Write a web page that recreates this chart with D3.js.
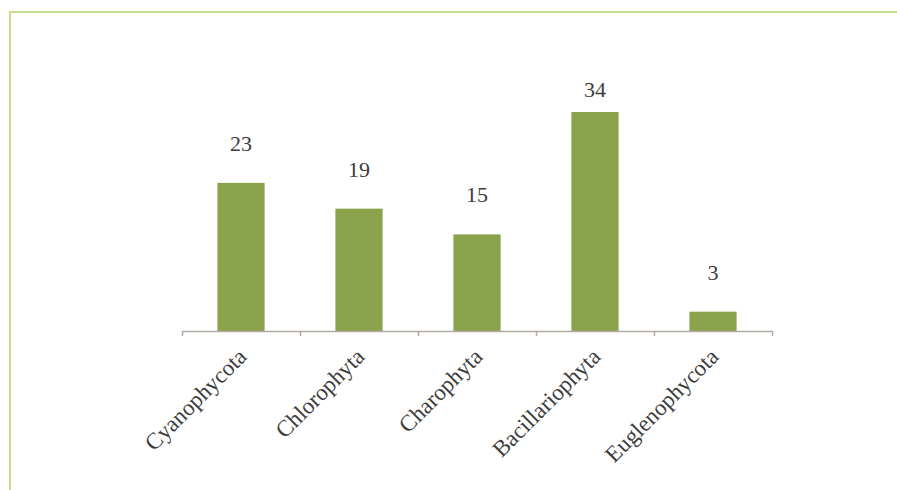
<!DOCTYPE html>
<html>
<head>
<meta charset="utf-8">
<script src="https://cdn.jsdelivr.net/npm/d3@7"></script>
<style>
  html, body { margin: 0; padding: 0; background: #ffffff; }
  svg { display: block; }
</style>
</head>
<body>
<script>
const categories = ["Cyanophycota", "Chlorophyta", "Charophyta", "Bacillariophyta", "Euglenophycota"];
const values = [23, 19, 15, 34, 3];

const W = 897, H = 490;
const svg = d3.select("body").append("svg").attr("width", W).attr("height", H);

// frame
svg.append("path")
  .attr("d", `M10,${H} L10,12 L${W},12`)
  .attr("fill", "none").attr("stroke", "#c9dd8e").attr("stroke-width", 2);

const left = 182, right = 772, base = 331;
const x = d3.scaleBand().domain(categories).range([left, right]).paddingInner(0.6).paddingOuter(0.3);
const y = d3.scaleLinear().domain([0, 40]).range([base, base - 40 * 6.44]);
const xEdge = d3.scaleLinear().domain([0, categories.length]).range([left, right]);

const font = "'Liberation Serif', 'Times New Roman', serif";

// bars
svg.selectAll("rect.bar").data(values).enter().append("rect")
  .attr("class", "bar")
  .attr("x", (d, i) => x(categories[i]))
  .attr("width", x.bandwidth())
  .attr("y", d => y(d))
  .attr("height", d => base - y(d))
  .attr("fill", "#8aa24a");

// axis
const axis = svg.append("g").attr("transform", `translate(0,${base})`)
  .call(d3.axisBottom(xEdge).tickValues(d3.range(categories.length + 1)).tickSize(5).tickSizeOuter(0).tickFormat(""));
axis.select(".domain").attr("stroke", "#b3aaa2").attr("stroke-width", 1.5);
axis.selectAll(".tick line").attr("stroke", "#b3aaa2").attr("stroke-width", 1.5);

// value labels
const labelTop = 97;
svg.selectAll("text.val").data(values).enter().append("text")
  .attr("class", "val")
  .attr("x", (d, i) => x(categories[i]) + x.bandwidth() / 2)
  .attr("y", d => Math.max(y(d) - 32, labelTop))
  .attr("text-anchor", "middle")
  .attr("font-family", font).attr("font-size", 22)
  .attr("fill", "#3d3d3d")
  .text(d => d);

// category labels
svg.selectAll("text.cat").data(categories).enter().append("text")
  .attr("class", "cat")
  .attr("transform", d => `translate(${x(d) + x.bandwidth() / 2 + 7},${base + 27}) rotate(-45)`)
  .attr("text-anchor", "end")
  .attr("font-family", font).attr("font-size", 23)
  .attr("fill", "#3d3d3d")
  .text(d => d);
</script>
</body>
</html>
